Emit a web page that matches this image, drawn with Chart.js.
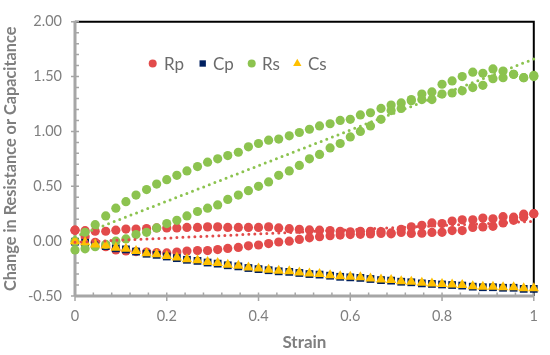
<!DOCTYPE html>
<html>
<head>
<meta charset="utf-8">
<script src="https://cdn.jsdelivr.net/npm/chart.js@4.4.1/dist/chart.umd.min.js"></script>
<style>
  html, body { margin: 0; padding: 0; background: #fff; }
</style>
</head>
<body>
<canvas id="chart" width="550" height="355"></canvas>
<script>
// strain steps, same for loading and unloading
var strain = [0, 0.022, 0.044, 0.067, 0.089, 0.111, 0.133, 0.156, 0.178, 0.2,
  0.222, 0.244, 0.267, 0.289, 0.311, 0.333, 0.356, 0.378, 0.4, 0.422,
  0.444, 0.467, 0.489, 0.511, 0.533, 0.556, 0.578, 0.6, 0.622, 0.644,
  0.667, 0.689, 0.711, 0.733, 0.756, 0.778, 0.8, 0.822, 0.844, 0.867,
  0.889, 0.911, 0.933, 0.956, 0.978, 1];

var rpLoad = [0.10, 0.095, 0.09, 0.09, 0.10, 0.11, 0.11, 0.115, 0.12, 0.12,
  0.12, 0.125, 0.125, 0.13, 0.13, 0.125, 0.125, 0.125, 0.125, 0.13,
  0.12, 0.114, 0.108, 0.102, 0.10, 0.096, 0.09, 0.085, 0.09, 0.09,
  0.088, 0.067, 0.108, 0.13, 0.145, 0.166, 0.16, 0.183, 0.194, 0.194,
  0.21, 0.203, 0.223, 0.218, 0.246, 0.25];
var rpUnload = [0.10, 0.04, -0.01, -0.05, -0.08, -0.09, -0.095, -0.10, -0.105, -0.107,
  -0.10, -0.09, -0.086, -0.086, -0.077, -0.066, -0.057, -0.043, -0.035, -0.022,
  -0.008, 0.0, 0.016, 0.03, 0.04, 0.05, 0.055, 0.06, 0.062, 0.065,
  0.07, 0.075, 0.079, 0.07, 0.073, 0.079, 0.08, 0.096, 0.096, 0.125,
  0.13, 0.135, 0.166, 0.19, 0.218, 0.25];

var rsLoad = [0.0, 0.08, 0.15, 0.23, 0.30, 0.36, 0.42, 0.47, 0.52, 0.56,
  0.60, 0.64, 0.68, 0.72, 0.75, 0.78, 0.81, 0.86, 0.89, 0.92,
  0.93, 0.96, 0.99, 1.02, 1.05, 1.07, 1.10, 1.11, 1.15, 1.17,
  1.21, 1.24, 1.26, 1.29, 1.34, 1.36, 1.43, 1.46, 1.50, 1.54,
  1.53, 1.57, 1.55, 1.52, 1.49, 1.51];
var rsUnload = [-0.08, -0.07, -0.05, -0.03, 0.0, 0.02, 0.06, 0.08, 0.12, 0.16,
  0.19, 0.23, 0.27, 0.30, 0.33, 0.38, 0.42, 0.46, 0.50, 0.54,
  0.60, 0.64, 0.69, 0.75, 0.79, 0.85, 0.89, 0.95, 1.00, 1.05,
  1.11, 1.19, 1.21, 1.28, 1.29, 1.29, 1.34, 1.35, 1.37, 1.40,
  1.42, 1.48, 1.49, 1.52, 1.49, 1.50];

var cpVals = [-0.005, -0.015, -0.035, -0.045, -0.065, -0.075, -0.095, -0.115, -0.125, -0.14,
  -0.155, -0.17, -0.18, -0.195, -0.205, -0.22, -0.23, -0.245, -0.255, -0.265,
  -0.275, -0.28, -0.29, -0.3, -0.305, -0.315, -0.325, -0.33, -0.335, -0.345,
  -0.355, -0.36, -0.37, -0.375, -0.385, -0.39, -0.395, -0.4, -0.405, -0.415,
  -0.42, -0.42, -0.425, -0.425, -0.435, -0.435];
var csVals = [0, -0.01, -0.03, -0.04, -0.06, -0.07, -0.09, -0.11, -0.12, -0.135,
  -0.15, -0.165, -0.175, -0.19, -0.2, -0.215, -0.225, -0.24, -0.25, -0.26,
  -0.27, -0.275, -0.285, -0.295, -0.3, -0.31, -0.32, -0.325, -0.33, -0.34,
  -0.35, -0.355, -0.365, -0.37, -0.38, -0.385, -0.39, -0.395, -0.4, -0.41,
  -0.415, -0.415, -0.42, -0.42, -0.43, -0.43];

// linear trendlines (value at strain 0 and strain 1)
var trendX = [0, 1];
var rpTrend = [-0.01, 0.18];
var rsTrend = [0.04, 1.66];

var seriesNames = ['Rp', 'Cp', 'Rs', 'Cs'];

var RED = '#e24b4b', NAVY = '#002060', GREEN = '#8cc34f', GOLD = '#ffc000';
var GREY = '#7f7f7f';

function pts(xs, ys) {
  return xs.map(function (x, i) { return {x: x, y: ys[i]}; });
}

function markers(label, data, style, radius, color, order) {
  return {
    label: label, data: data, pointStyle: style, pointRadius: radius,
    pointBackgroundColor: color, pointBorderWidth: 0, backgroundColor: color,
    borderColor: color, showLine: false, clip: false, order: order
  };
}

function trend(ys, color) {
  return {
    label: '', data: pts(trendX, ys), showLine: true, borderColor: color,
    borderWidth: 3, borderDash: [0, 6], borderCapStyle: 'round',
    pointRadius: 0, clip: false, order: 0
  };
}

// axis lines and tick marks like the spreadsheet chart
var framePlugin = {
  id: 'frame',
  beforeDatasetsDraw: function (chart) {
    var ctx = chart.ctx, a = chart.chartArea;
    var x = chart.scales.x, y = chart.scales.y;
    ctx.save();
    ctx.strokeStyle = '#000';
    ctx.lineWidth = 2;
    ctx.beginPath();
    ctx.moveTo(a.left, a.top);
    ctx.lineTo(a.right, a.top);
    ctx.lineTo(a.right, a.bottom);
    ctx.stroke();

    ctx.strokeStyle = '#a6a6a6';
    ctx.lineWidth = 1.5;
    ctx.beginPath();
    for (var i = 0; i <= 25; i++) {
      var py = y.getPixelForValue(-0.5 + i * 0.1);
      ctx.moveTo(i % 5 === 0 ? a.left - 4 : a.left, py);
      ctx.lineTo(a.left + 4, py);
    }
    for (var j = 0; j <= 25; j++) {
      var px = x.getPixelForValue(j * 0.04);
      ctx.moveTo(px, a.bottom - 3.5);
      ctx.lineTo(px, j % 5 === 0 ? a.bottom + 5 : a.bottom);
    }
    ctx.stroke();

    ctx.lineWidth = 3;
    ctx.beginPath();
    ctx.moveTo(a.left, a.top - 1);
    ctx.lineTo(a.left, a.bottom);
    ctx.moveTo(a.left, a.bottom);
    ctx.lineTo(a.right, a.bottom);
    ctx.stroke();
    ctx.restore();
  }
};

// legend sitting inside the plot
var legendPlugin = {
  id: 'insideLegend',
  afterDatasetsDraw: function (chart) {
    var ctx = chart.ctx;
    var marks = [152.7, 202.7, 251.7, 297.3];
    var texts = [164, 213, 262, 308];
    var sizes = [4, 4.5, 4, 4.8];
    var ly = 63.5;
    ctx.save();
    for (var i = 0; i < 4; i++) {
      var ds = chart.data.datasets[i];
      ctx.fillStyle = ds.pointBackgroundColor;
      Chart.helpers.drawPoint(ctx, {
        pointStyle: ds.pointStyle, radius: sizes[i], rotation: 0, borderWidth: 0
      }, marks[i], ly);
      ctx.fillStyle = '#6b6b6b';
      ctx.font = '17px Lato';
      ctx.textBaseline = 'middle';
      ctx.textAlign = 'left';
      ctx.fillText(seriesNames[i], texts[i], ly + 1);
    }
    ctx.restore();
  }
};

var chart = new Chart('chart', {
  type: 'scatter',
  data: {
    datasets: [
      markers(seriesNames[0], pts(strain, rpLoad).concat(pts(strain, rpUnload)), 'circle', 4.6, RED, 4),
      markers(seriesNames[1], pts(strain, cpVals), 'rect', 5.5, NAVY, 3),
      markers(seriesNames[2], pts(strain, rsLoad).concat(pts(strain, rsUnload)), 'circle', 4.6, GREEN, 2),
      markers(seriesNames[3], pts(strain, csVals), 'triangle', 6, GOLD, 1),
      trend(rpTrend, RED),
      trend(rsTrend, GREEN)
    ]
  },
  options: {
    responsive: false,
    animation: false,
    events: [],
    layout: { padding: { top: 8, right: 9, left: 0, bottom: 0 } },
    plugins: { legend: { display: false }, tooltip: { enabled: false } },
    scales: {
      x: {
        type: 'linear', min: 0, max: 1,
        afterFit: function (s) { s.height = 59; },
        grid: { display: false, drawTicks: false },
        border: { display: false },
        ticks: {
          stepSize: 0.2, padding: 12, color: GREY,
          font: { family: 'Lato', size: 14.5 },
          callback: function (v) { return String(Math.round(v * 10) / 10); }
        },
        title: {
          display: true, text: 'Strain', color: GREY,
          font: { family: 'Lato', size: 17, weight: 'bold' },
          padding: { top: 0, bottom: 2 }
        }
      },
      y: {
        min: -0.5, max: 2,
        afterFit: function (s) { s.width = 75; },
        grid: { display: false, drawTicks: false },
        border: { display: false },
        ticks: {
          stepSize: 0.5, padding: 13, color: GREY,
          font: { family: 'Lato', size: 14.5 },
          callback: function (v) { return v.toFixed(2); }
        },
        title: {
          display: true, text: 'Change in Resistance or Capacitance', color: GREY,
          font: { family: 'Lato', size: 16.3, weight: 'bold' },
          padding: { top: 0.5, bottom: 0 }
        }
      }
    }
  },
  plugins: [framePlugin, legendPlugin]
});
</script>
</body>
</html>
